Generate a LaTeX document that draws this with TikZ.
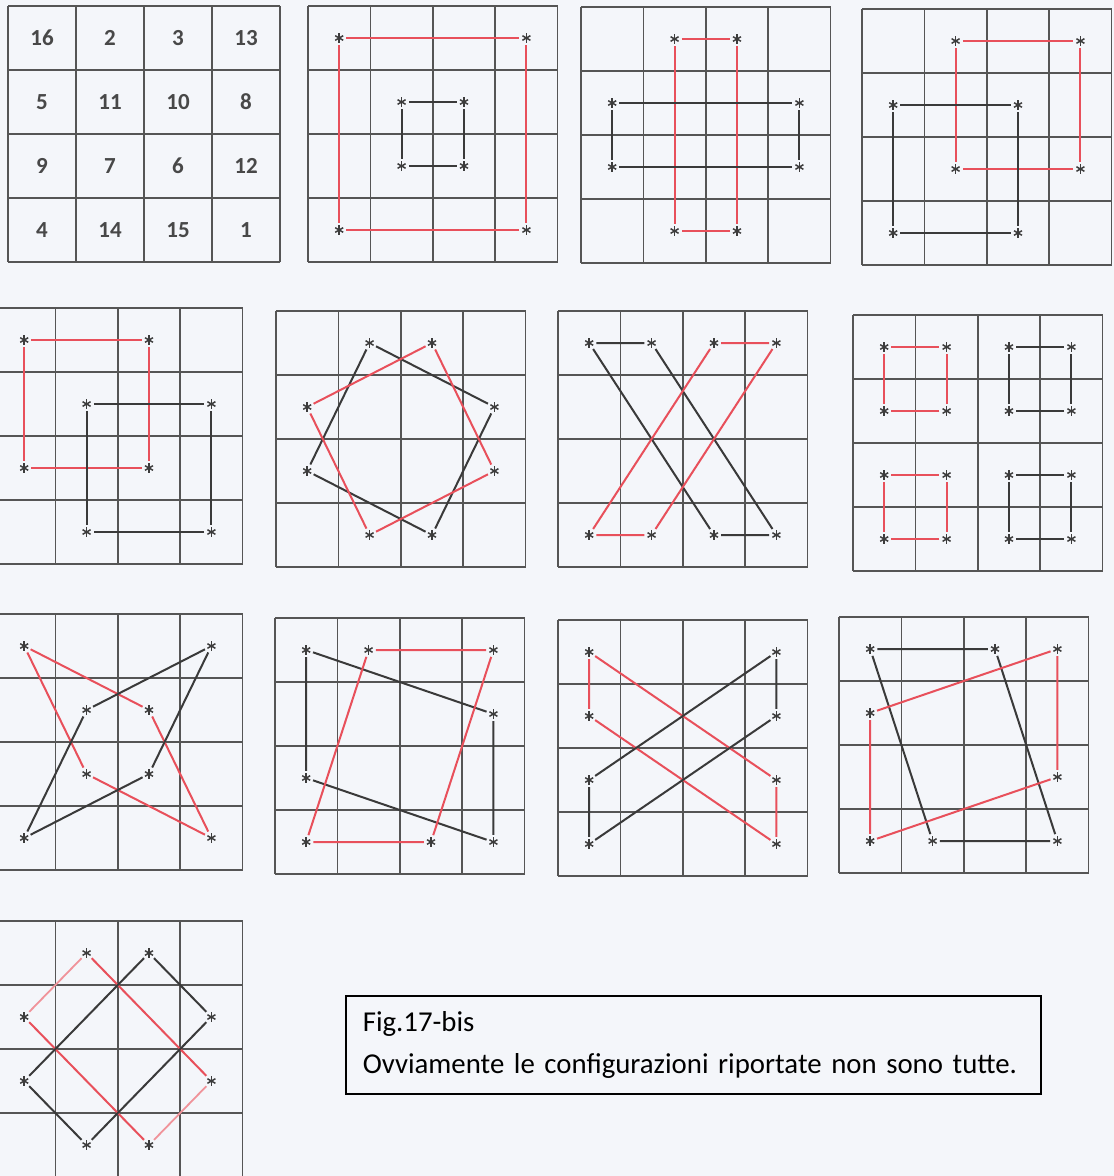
\documentclass[tikz,border=0pt]{standalone}
\usepackage{fontspec}
\setmainfont{Carlito}
\usetikzlibrary{calc}
\definecolor{paper}{HTML}{F4F6FA}
\definecolor{gridc}{HTML}{555555}
\definecolor{redc}{HTML}{E8505B}
\definecolor{pinkc}{HTML}{F0939A}
\definecolor{inkc}{HTML}{3A3A3A}
\definecolor{starc}{HTML}{3C3C3C}
\definecolor{numc}{HTML}{484848}

\begin{document}
\begin{tikzpicture}[
    x=1pt, y=-1pt,
    sqcell/.style={x=62.4pt, y=-64pt},
    gridline/.style={draw=gridc, line width=1.7pt},
    spot/.style={circle, inner sep=0, minimum size=14pt,
        path picture={
            \foreach \a in {90,30,-30}
                \draw[starc, line width=1.5pt] ($(path picture bounding box.center)+(\a:4.6pt)$)
                    -- ($(path picture bounding box.center)+(\a+180:4.6pt)$);
        }},
    num/.style={text=numc, font=\fontsize{23}{23}\selectfont\bfseries},
    redline/.style={draw=redc, line width=2pt},
    pinkline/.style={draw=pinkc, line width=1.8pt},
    blkline/.style={draw=inkc, line width=2pt},
    note/.style={draw=black, line width=1.6pt, fill=paper, anchor=north west, inner xsep=17pt,
        text width=661pt, align=left, minimum height=98pt, font=\fontsize{28.8}{31}\selectfont}
]

% Page
\fill[paper] (0,0) rectangle (1114,1176);
\useasboundingbox (0,0) rectangle (1114,1176);
\clip (0,0) rectangle (1114,1176);

% Grid 1: the magic square
\begin{scope}[shift={(8,6)}, x=68pt, y=-64pt]
\foreach \i in {0,...,4} {
    \draw[gridline] (\i,0) -- (\i,4);
    \draw[gridline] (0,\i) -- (4,\i);
}
\foreach \v [count=\k from 0] in {16,2,3,13,5,11,10,8,9,7,6,12,4,14,15,1} {
    \pgfmathtruncatemacro{\c}{mod(\k,4)}
    \pgfmathtruncatemacro{\r}{div(\k,4)}
    \node[num] (n-\c\r) at (\c+0.5,\r+0.5) {\v};
}
\end{scope}

% Grid 2: two nested squares
\begin{scope}[shift={(308,6)}, sqcell]
\foreach \i in {0,...,4} {
    \draw[gridline] (\i,0) -- (\i,4);
    \draw[gridline] (0,\i) -- (4,\i);
}
\foreach \c/\r in {0/0,3/0,3/3,0/3,1/1,2/1,2/2,1/2} {
    \node[spot] (b-\c\r) at (\c+0.5,\r+0.5) {};
}
\draw[redline] (b-00) -- (b-30) -- (b-33) -- (b-03) -- (b-00);
\draw[blkline] (b-11) -- (b-21) -- (b-22) -- (b-12) -- (b-11);
\end{scope}

% Grid 3: cross of two rectangles
\begin{scope}[shift={(581,7)}, sqcell]
\foreach \i in {0,...,4} {
    \draw[gridline] (\i,0) -- (\i,4);
    \draw[gridline] (0,\i) -- (4,\i);
}
\foreach \c/\r in {1/0,2/0,2/3,1/3,0/1,3/1,3/2,0/2} {
    \node[spot] (c-\c\r) at (\c+0.5,\r+0.5) {};
}
\draw[redline] (c-10) -- (c-20) -- (c-23) -- (c-13) -- (c-10);
\draw[blkline] (c-01) -- (c-31) -- (c-32) -- (c-02) -- (c-01);
\end{scope}

% Grid 4: shifted squares
\begin{scope}[shift={(862,9)}, sqcell]
\foreach \i in {0,...,4} {
    \draw[gridline] (\i,0) -- (\i,4);
    \draw[gridline] (0,\i) -- (4,\i);
}
\foreach \c/\r in {1/0,3/0,3/2,1/2,0/1,2/1,2/3,0/3} {
    \node[spot] (d-\c\r) at (\c+0.5,\r+0.5) {};
}
\draw[redline] (d-10) -- (d-30) -- (d-32) -- (d-12) -- (d-10);
\draw[blkline] (d-01) -- (d-21) -- (d-23) -- (d-03) -- (d-01);
\end{scope}

% Grid 5
\begin{scope}[shift={(-7,308)}, sqcell]
\foreach \i in {0,...,4} {
    \draw[gridline] (\i,0) -- (\i,4);
    \draw[gridline] (0,\i) -- (4,\i);
}
\foreach \c/\r in {0/0,2/0,2/2,0/2,1/1,3/1,3/3,1/3} {
    \node[spot] (e-\c\r) at (\c+0.5,\r+0.5) {};
}
\draw[redline] (e-00) -- (e-20) -- (e-22) -- (e-02) -- (e-00);
\draw[blkline] (e-11) -- (e-31) -- (e-33) -- (e-13) -- (e-11);
\end{scope}

% Grid 6: octagram
\begin{scope}[shift={(276,311)}, sqcell]
\foreach \i in {0,...,4} {
    \draw[gridline] (\i,0) -- (\i,4);
    \draw[gridline] (0,\i) -- (4,\i);
}
\foreach \c/\r in {1/0,2/0,0/1,3/1,0/2,3/2,1/3,2/3} {
    \node[spot] (f-\c\r) at (\c+0.5,\r+0.5) {};
}
\draw[blkline] (f-10) -- (f-31) -- (f-23) -- (f-02) -- (f-10);
\draw[redline] (f-20) -- (f-01) -- (f-13) -- (f-32) -- (f-20);
\end{scope}

% Grid 7: crossed pairs
\begin{scope}[shift={(558,311)}, sqcell]
\foreach \i in {0,...,4} {
    \draw[gridline] (\i,0) -- (\i,4);
    \draw[gridline] (0,\i) -- (4,\i);
}
\foreach \c/\r in {0/0,1/0,2/0,3/0,0/3,1/3,2/3,3/3} {
    \node[spot] (g-\c\r) at (\c+0.5,\r+0.5) {};
}
\draw[blkline] (g-00) -- (g-10) -- (g-33) -- (g-23) -- (g-00);
\draw[redline] (g-20) -- (g-30) -- (g-13) -- (g-03) -- (g-20);
\end{scope}

% Grid 8: four small squares
\begin{scope}[shift={(853,315)}, sqcell]
\foreach \i in {0,...,4} {
    \draw[gridline] (\i,0) -- (\i,4);
    \draw[gridline] (0,\i) -- (4,\i);
}
\foreach \c/\r in {0/0,1/0,2/0,3/0,0/1,1/1,2/1,3/1,0/2,1/2,2/2,3/2,0/3,1/3,2/3,3/3} {
    \node[spot] (h-\c\r) at (\c+0.5,\r+0.5) {};
}
\draw[redline] (h-00) -- (h-10) -- (h-11) -- (h-01) -- (h-00);
\draw[blkline] (h-20) -- (h-30) -- (h-31) -- (h-21) -- (h-20);
\draw[redline] (h-02) -- (h-12) -- (h-13) -- (h-03) -- (h-02);
\draw[blkline] (h-22) -- (h-32) -- (h-33) -- (h-23) -- (h-22);
\end{scope}

% Grid 9: pinwheel
\begin{scope}[shift={(-7,614)}, sqcell]
\foreach \i in {0,...,4} {
    \draw[gridline] (\i,0) -- (\i,4);
    \draw[gridline] (0,\i) -- (4,\i);
}
\foreach \c/\r in {0/0,3/0,1/1,2/1,1/2,2/2,0/3,3/3} {
    \node[spot] (k-\c\r) at (\c+0.5,\r+0.5) {};
}
\draw[redline] (k-00) -- (k-21) -- (k-33) -- (k-12) -- (k-00);
\draw[blkline] (k-30) -- (k-11) -- (k-03) -- (k-22) -- (k-30);
\end{scope}

% Grid 10
\begin{scope}[shift={(275,618)}, sqcell]
\foreach \i in {0,...,4} {
    \draw[gridline] (\i,0) -- (\i,4);
    \draw[gridline] (0,\i) -- (4,\i);
}
\foreach \c/\r in {0/0,1/0,3/0,3/1,0/2,0/3,2/3,3/3} {
    \node[spot] (m-\c\r) at (\c+0.5,\r+0.5) {};
}
\draw[blkline] (m-00) -- (m-31) -- (m-33) -- (m-02) -- (m-00);
\draw[redline] (m-10) -- (m-30) -- (m-23) -- (m-03) -- (m-10);
\end{scope}

% Grid 11
\begin{scope}[shift={(558,620)}, sqcell]
\foreach \i in {0,...,4} {
    \draw[gridline] (\i,0) -- (\i,4);
    \draw[gridline] (0,\i) -- (4,\i);
}
\foreach \c/\r in {0/0,3/0,0/1,3/1,0/2,3/2,0/3,3/3} {
    \node[spot] (p-\c\r) at (\c+0.5,\r+0.5) {};
}
\draw[redline] (p-00) -- (p-01) -- (p-33) -- (p-32) -- (p-00);
\draw[blkline] (p-30) -- (p-31) -- (p-03) -- (p-02) -- (p-30);
\end{scope}

% Grid 12
\begin{scope}[shift={(839,617)}, sqcell]
\foreach \i in {0,...,4} {
    \draw[gridline] (\i,0) -- (\i,4);
    \draw[gridline] (0,\i) -- (4,\i);
}
\foreach \c/\r in {0/0,2/0,3/0,0/1,3/2,0/3,1/3,3/3} {
    \node[spot] (q-\c\r) at (\c+0.5,\r+0.5) {};
}
\draw[blkline] (q-00) -- (q-20) -- (q-33) -- (q-13) -- (q-00);
\draw[redline] (q-30) -- (q-32) -- (q-03) -- (q-01) -- (q-30);
\end{scope}

% Grid 13: tilted squares
\begin{scope}[shift={(-7,921)}, sqcell]
\foreach \i in {0,...,4} {
    \draw[gridline] (\i,0) -- (\i,4);
    \draw[gridline] (0,\i) -- (4,\i);
}
\foreach \c/\r in {1/0,2/0,0/1,3/1,0/2,3/2,1/3,2/3} {
    \node[spot] (s-\c\r) at (\c+0.5,\r+0.5) {};
}
\draw[pinkline] (s-10) -- (s-01);
\draw[redline] (s-01) -- (s-23);
\draw[pinkline] (s-23) -- (s-32);
\draw[redline] (s-32) -- (s-10);
\draw[blkline] (s-20) -- (s-31) -- (s-13) -- (s-02) -- (s-20);
\end{scope}

% Caption
\node[note] (caption) at (345,995) {Fig.17-bis\\[11pt]Ovviamente le configurazioni riportate non sono tutte.};

\end{tikzpicture}
\end{document}
